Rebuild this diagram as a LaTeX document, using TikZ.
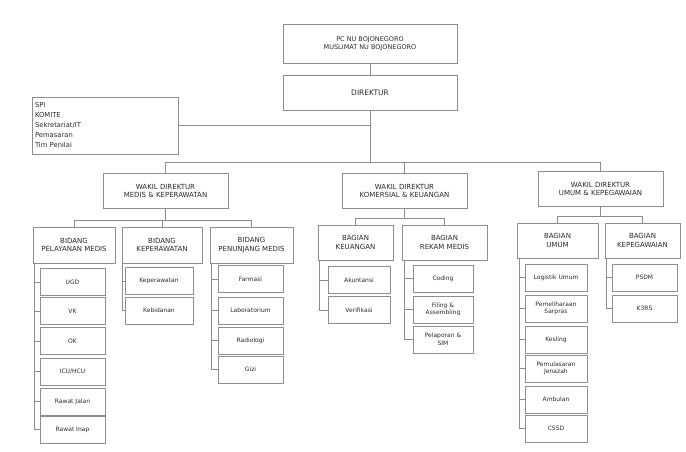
\documentclass[tikz,border=0pt]{standalone}
\usepackage{fontspec}
\setmainfont{DejaVu Sans}
\usepackage{xcolor}
\definecolor{boxgray}{HTML}{8E8E8E}
\definecolor{linegray}{HTML}{8C8C8C}
\definecolor{textgray}{HTML}{2A2A2A}

\begin{document}
\begin{tikzpicture}[x=1pt,y=-1pt,
    orgbox/.style={draw=boxgray,line width=0.9pt,fill=white,align=center,inner sep=1pt,text=textgray,font=\fontsize{6}{7.5}\selectfont},
    headbox/.style={orgbox,font=\fontsize{7}{8.5}\selectfont},
    unitbox/.style={orgbox,minimum width=#1,minimum height=27pt},
    link/.style={draw=linegray,line width=0.7pt}]
            \useasboundingbox (0,0) rectangle (686,452);

            % pimpinan
            \node[orgbox,font=\fontsize{6.5}{8}\selectfont,minimum width=174pt,minimum height=39pt] (pcnu) at (370,43.5) {PC NU BOJONEGORO\\MUSLIMAT NU BOJONEGORO};
            \node[headbox,font=\fontsize{7.5}{9}\selectfont,minimum width=174pt,minimum height=35pt] (direktur) at (370,92.5) {DIREKTUR};
            \node[orgbox,font=\fontsize{6.8}{10}\selectfont,minimum width=146pt,minimum height=57pt,align=left,text width=140pt] (staf) at (105,125.5) {SPI\\KOMITE\\Sekretariat/IT\\Pemasaran\\Tim Penilai};

            % wakil direktur
            \node[headbox,minimum width=125pt,minimum height=35pt] (wamedis) at (165.5,191) {WAKIL DIREKTUR\\MEDIS \& KEPERAWATAN};
            \node[headbox,minimum width=125pt,minimum height=35pt] (wakeu) at (404.5,191) {WAKIL DIREKTUR\\KOMERSIAL \& KEUANGAN};
            \node[headbox,minimum width=125pt,minimum height=35pt] (waumum) at (600.5,189) {WAKIL DIREKTUR\\UMUM \& KEPEGAWAIAN};

            % bidang / bagian
            \node[headbox,minimum width=82pt,minimum height=36pt] (yanmed) at (74,245) {BIDANG\\PELAYANAN MEDIS};
            \node[headbox,minimum width=80pt,minimum height=36pt] (kep) at (162,245) {BIDANG\\KEPERAWATAN};
            \node[headbox,minimum width=83pt,minimum height=36pt] (jangmed) at (251.5,245) {BIDANG\\PENUNJANG MEDIS};
            \node[headbox,minimum width=75pt,minimum height=35pt] (keu) at (355.5,242.5) {BAGIAN\\KEUANGAN};
            \node[headbox,minimum width=85pt,minimum height=35pt] (rm) at (444.5,242.5) {BAGIAN\\REKAM MEDIS};
            \node[headbox,minimum width=81pt,minimum height=35pt] (umum) at (557.5,240.5) {BAGIAN\\UMUM};
            \node[headbox,minimum width=75pt,minimum height=35pt] (pegawai) at (642.5,240.5) {BAGIAN\\KEPEGAWAIAN};

            % unit pelayanan medis
            \node[unitbox=65pt] (ugd) at (72.5,282) {UGD};
            \node[unitbox=65pt] (vk) at (72.5,311) {VK};
            \node[unitbox=65pt] (ok) at (72.5,341) {OK};
            \node[unitbox=65pt] (icu) at (72.5,371.5) {ICU/HCU};
            \node[unitbox=65pt] (ralan) at (72.5,401.5) {Rawat Jalan};
            \node[unitbox=65pt] (ranap) at (72.5,429.5) {Rawat Inap};

            % unit keperawatan
            \node[unitbox=68pt] (perawat) at (159,281) {Keperawatan};
            \node[unitbox=68pt] (bidan) at (159,310.5) {Kebidanan};

            % unit penunjang medis
            \node[unitbox=65pt] (farmasi) at (250.5,279) {Farmasi};
            \node[unitbox=65pt] (lab) at (250.5,310.5) {Laboratorium};
            \node[unitbox=65pt] (radio) at (250.5,340.5) {Radiologi};
            \node[unitbox=65pt] (gizi) at (250.5,369.5) {Gizi};

            % unit keuangan
            \node[unitbox=62pt] (akun) at (359,280) {Akuntansi};
            \node[unitbox=62pt] (verif) at (359,310) {Verifikasi};

            % unit rekam medis
            \node[unitbox=60pt] (coding) at (443,278.5) {Coding};
            \node[unitbox=60pt] (filing) at (443,309.5) {Filing \&\\Assembling};
            \node[unitbox=60pt] (lapor) at (443,339.5) {Pelaporan \&\\SIM};

            % unit umum
            \node[unitbox=62pt] (logistik) at (556,277.5) {Logistik Umum};
            \node[unitbox=62pt] (sarpras) at (556,308.5) {Pemeliharaan\\Sarpras};
            \node[unitbox=62pt] (kesling) at (556,339.5) {Kesling};
            \node[unitbox=62pt] (jenazah) at (556,368.5) {Pemulasaran\\Jenazah};
            \node[unitbox=62pt] (ambulan) at (556,399.5) {Ambulan};
            \node[unitbox=62pt] (cssd) at (556,428.5) {CSSD};

            % unit kepegawaian
            \node[unitbox=65pt] (psdm) at (644.5,277.5) {PSDM};
            \node[unitbox=65pt] (k3rs) at (644.5,308.5) {K3RS};

            % garis komando
            \draw[link] (pcnu) -- (direktur);
            \draw[link] (staf.east) -- (staf.east -| direktur.south);
            \draw[link] (direktur.south) -- ++(0,52) -| (wamedis.north);
            \draw[link] (direktur.south) -- ++(0,52) -| (wakeu.north);
            \draw[link] (direktur.south) -- ++(0,52) -| (waumum.north);

            \draw[link] (wamedis.south) -- ++(0,11) -| (yanmed.north);
            \draw[link] (wamedis.south) -- ++(0,11) -| (kep.north);
            \draw[link] (wamedis.south) -- ++(0,11) -| (jangmed.north);
            \draw[link] (wakeu.south) -- ++(0,9) -| (keu.north);
            \draw[link] (wakeu.south) -- ++(0,9) -| (rm.north);
            \draw[link] (waumum.south) -- ++(0,9) -| (umum.north);
            \draw[link] (waumum.south) -- ++(0,9) -| (pegawai.north);

            \foreach \unit in {ugd,vk,ok,icu,ralan,ranap}
                \draw[link] ([xshift=2pt]yanmed.south west) |- (\unit.west);
            \foreach \unit in {perawat,bidan}
                \draw[link] ([xshift=1pt]kep.south west) |- (\unit.west);
            \foreach \unit in {farmasi,lab,radio,gizi}
                \draw[link] ([xshift=2pt]jangmed.south west) |- (\unit.west);
            \foreach \unit in {akun,verif}
                \draw[link] ([xshift=2pt]keu.south west) |- (\unit.west);
            \foreach \unit in {coding,filing,lapor}
                \draw[link] ([xshift=3pt]rm.south west) |- (\unit.west);
            \foreach \unit in {logistik,sarpras,kesling,jenazah,ambulan,cssd}
                \draw[link] ([xshift=3pt]umum.south west) |- (\unit.west);
            \foreach \unit in {psdm,k3rs}
                \draw[link] ([xshift=2pt]pegawai.south west) |- (\unit.west);
        \end{tikzpicture}
\end{document}
